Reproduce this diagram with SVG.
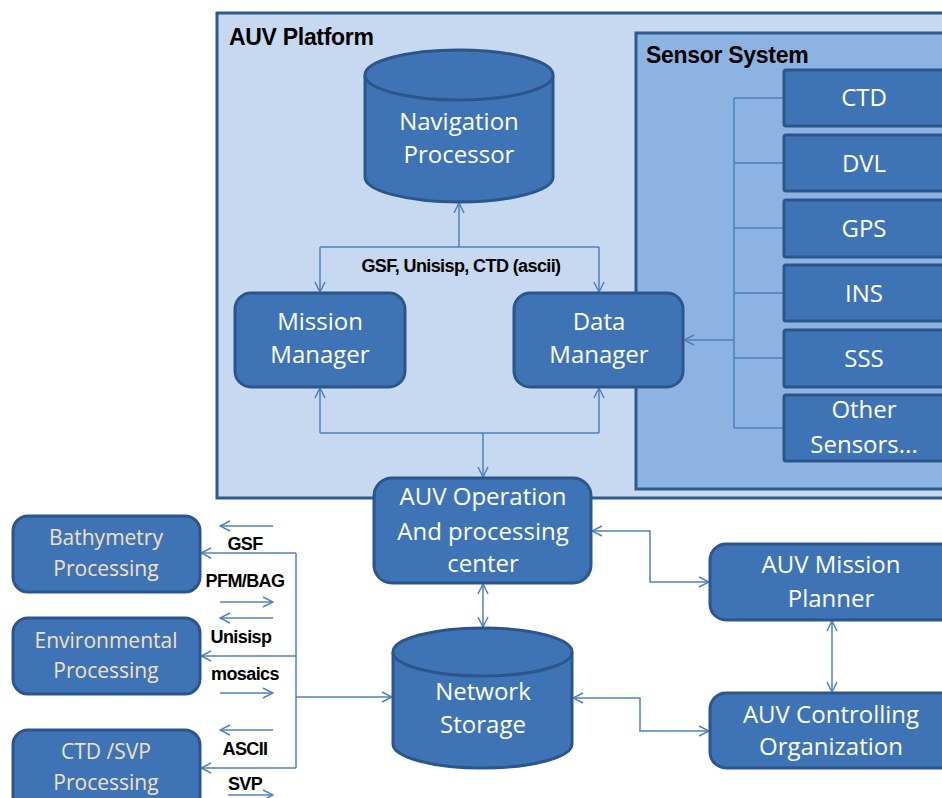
<svg xmlns="http://www.w3.org/2000/svg" width="942" height="798" viewBox="0 0 942 798">
  <defs>
    <marker id="arr" viewBox="0 0 12 12" refX="11" refY="6" markerWidth="12" markerHeight="12" markerUnits="userSpaceOnUse" orient="auto-start-reverse">
      <path d="M1,1 L11,6 L1,11" fill="none" stroke="#4f81bd" stroke-width="1.5"/>
    </marker>
    <style>
      .frame { fill: #c6d9f1; stroke: #2e5a8e; stroke-width: 3; }
      .sub { fill: #8db3e2; stroke: #2e5a8e; stroke-width: 3; }
      .node { fill: #3e74b6; stroke: #2c5689; stroke-width: 3; }
      .line { fill: none; stroke: #4f81bd; stroke-width: 1.5; }
      .arr { marker-end: url(#arr); }
      .both { marker-start: url(#arr); marker-end: url(#arr); }
      .t { font-family: "Open Sans", "Liberation Sans", sans-serif; font-size: 24px; fill: #ffffff; text-anchor: middle; }
      .tl { font-family: "Open Sans", "Liberation Sans", sans-serif; font-size: 21px; fill: #f3e0c4; text-anchor: middle; }
      .title { font-family: "Liberation Sans", Arial, sans-serif; font-weight: bold; font-size: 23px; letter-spacing: -0.3px; fill: #000; }
      .lab { font-family: "Liberation Sans", Arial, sans-serif; font-weight: bold; font-size: 18px; letter-spacing: -0.6px; fill: #000; text-anchor: middle; }
    </style>
  </defs>

  <rect width="942" height="798" fill="#ffffff"/>

  <!-- AUV platform enclosure -->
  <g id="auv-platform">
    <rect class="frame" x="217" y="13" width="740" height="485"/>
    <text class="title" x="229" y="45">AUV Platform</text>
  </g>

  <!-- sensor system enclosure -->
  <g id="sensor-system">
    <rect class="sub" x="636" y="33" width="320" height="456"/>
    <text class="title" x="646" y="63">Sensor System</text>
  </g>

  <!-- connectors -->
  <g id="connectors">
    <!-- navigation processor to managers -->
    <path class="line arr" d="M459,247 V203"/>
    <path class="line" d="M320,247 H599"/>
    <path class="line arr" d="M320,247 V292"/>
    <path class="line arr" d="M599,247 V292"/>
    <!-- managers to operation center -->
    <path class="line arr" d="M320,433 V388"/>
    <path class="line arr" d="M599,433 V388"/>
    <path class="line" d="M320,433 H599"/>
    <path class="line arr" d="M483,433 V477"/>
    <!-- sensor bus -->
    <path class="line" d="M734,98 V428"/>
    <path class="line" d="M734,98 H784 M734,163 H784 M734,228 H784 M734,293 H784 M734,358 H784 M734,428 H784"/>
    <path class="line arr" d="M734,340 H684"/>
    <!-- operation center links -->
    <path class="line both" d="M592,531 H650 V582 H709"/>
    <path class="line both" d="M483,584 V627"/>
    <path class="line both" d="M573,698 H640 V731 H709"/>
    <path class="line both" d="M832,621 V692"/>
    <!-- processing bus -->
    <path class="line" d="M296,553 V768"/>
    <path class="line arr" d="M296,553 H201"/>
    <path class="line arr" d="M296,656 H201"/>
    <path class="line arr" d="M296,768 H201"/>
    <path class="line arr" d="M296,697 H392"/>
    <!-- data-flow hints -->
    <path class="line arr" d="M273,526 H220"/>
    <path class="line arr" d="M220,602 H273"/>
    <path class="line arr" d="M273,618 H220"/>
    <path class="line arr" d="M220,693 H273"/>
    <path class="line arr" d="M273,730 H220"/>
    <path class="line arr" d="M228,795 H273"/>
  </g>

  <g id="navigation-processor">
    <path class="node" d="M365,75 V177 A94,25 0 0 0 553,177 V75"/>
    <ellipse class="node" cx="459" cy="75" rx="94" ry="25"/>
    <text class="t" x="459" y="130">Navigation</text>
    <text class="t" x="459" y="163">Processor</text>
  </g>

  <text class="lab" x="461" y="272">GSF, Unisisp, CTD (ascii)</text>

  <g id="mission-manager">
    <rect class="node" x="235" y="293" width="170" height="94" rx="16"/>
    <text class="t" x="320" y="330">Mission</text>
    <text class="t" x="320" y="363">Manager</text>
  </g>

  <g id="data-manager">
    <rect class="node" x="514" y="293" width="169" height="94" rx="16"/>
    <text class="t" x="599" y="330">Data</text>
    <text class="t" x="599" y="363">Manager</text>
  </g>

  <g id="sensor-ctd">
    <rect class="node" x="784" y="70" width="170" height="56" rx="2"/>
    <text class="t" x="864" y="106">CTD</text>
  </g>
  <g id="sensor-dvl">
    <rect class="node" x="784" y="135" width="170" height="56" rx="2"/>
    <text class="t" x="864" y="172">DVL</text>
  </g>
  <g id="sensor-gps">
    <rect class="node" x="784" y="200" width="170" height="57" rx="2"/>
    <text class="t" x="864" y="237">GPS</text>
  </g>
  <g id="sensor-ins">
    <rect class="node" x="784" y="265" width="170" height="56" rx="2"/>
    <text class="t" x="864" y="302">INS</text>
  </g>
  <g id="sensor-sss">
    <rect class="node" x="784" y="330" width="170" height="57" rx="2"/>
    <text class="t" x="864" y="367">SSS</text>
  </g>
  <g id="sensor-other">
    <rect class="node" x="784" y="395" width="170" height="66" rx="2"/>
    <text class="t" x="864" y="418">Other</text>
    <text class="t" x="864" y="453">Sensors...</text>
  </g>

  <g id="operation-center">
    <rect class="node" x="374" y="478" width="217" height="105" rx="18"/>
    <text class="t" x="483" y="505">AUV Operation</text>
    <text class="t" x="483" y="540">And processing</text>
    <text class="t" x="483" y="572">center</text>
  </g>

  <g id="network-storage">
    <path class="node" d="M393,652 V744 A89.5,24 0 0 0 572,744 V652"/>
    <ellipse class="node" cx="482.5" cy="652" rx="89.5" ry="24"/>
    <text class="t" x="483" y="700">Network</text>
    <text class="t" x="483" y="733">Storage</text>
  </g>

  <g id="mission-planner">
    <rect class="node" x="710" y="544" width="250" height="76" rx="16"/>
    <text class="t" x="831" y="573">AUV Mission</text>
    <text class="t" x="831" y="607">Planner</text>
  </g>

  <g id="controlling-organization">
    <rect class="node" x="710" y="693" width="250" height="75" rx="16"/>
    <text class="t" x="831" y="723">AUV Controlling</text>
    <text class="t" x="831" y="755">Organization</text>
  </g>

  <g id="bathymetry-processing">
    <rect class="node" x="13" y="516" width="187" height="76" rx="15"/>
    <text class="tl" x="106" y="545">Bathymetry</text>
    <text class="tl" x="106" y="576">Processing</text>
  </g>

  <g id="environmental-processing">
    <rect class="node" x="13" y="618" width="187" height="76" rx="15"/>
    <text class="tl" x="106" y="648">Environmental</text>
    <text class="tl" x="106" y="678">Processing</text>
  </g>

  <g id="ctd-svp-processing">
    <rect class="node" x="13" y="730" width="187" height="90" rx="15"/>
    <text class="tl" x="106" y="759">CTD /SVP</text>
    <text class="tl" x="106" y="790">Processing</text>
  </g>

  <!-- format labels on the processing bus -->
  <g id="format-labels">
    <text class="lab" x="245" y="550">GSF</text>
    <text class="lab" x="245" y="587">PFM/BAG</text>
    <text class="lab" x="241" y="643">Unisisp</text>
    <text class="lab" x="245" y="680">mosaics</text>
    <text class="lab" x="245" y="755">ASCII</text>
    <text class="lab" x="245" y="790">SVP</text>
  </g>
</svg>
